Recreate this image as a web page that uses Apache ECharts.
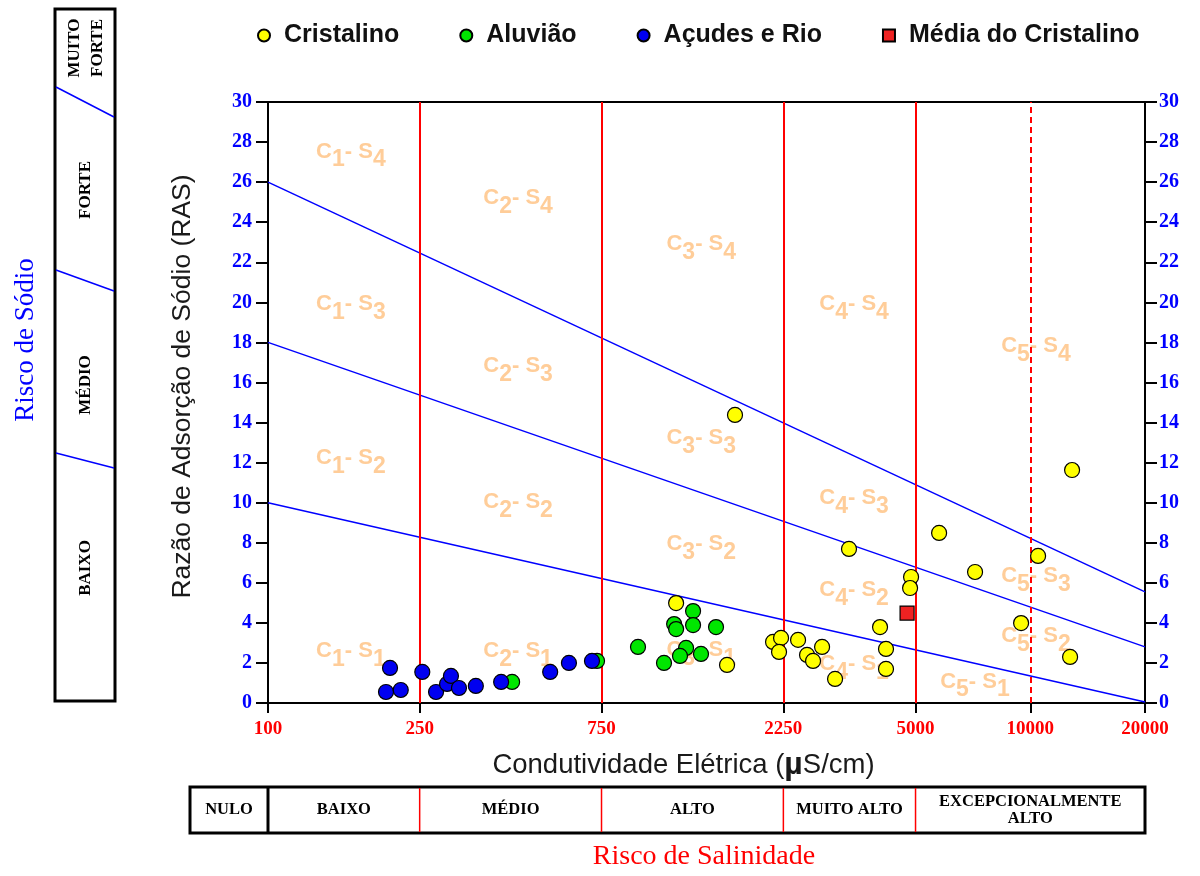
<!DOCTYPE html>
<html><head><meta charset="utf-8">
<script src="https://cdn.jsdelivr.net/npm/echarts@6/dist/echarts.min.js"></script>
<style>html,body{margin:0;padding:0;background:#fff}#c{width:1200px;height:876px}</style>
</head><body><div id="c"></div>
<script>
// ---------- DATA ----------
const xTicks = [100, 250, 750, 2250, 5000, 10000, 20000];
const yMin = 0, yMax = 30, yInterval = 2;

const cristalino = [
  [1680,14.38],[1177,4.99],[1601,1.90],[2114,3.05],[2219,3.25],[2192,2.55],
  [2459,3.15],[2596,2.40],[2692,2.10],[2843,2.80],[3075,1.20],[3345,7.69],
  [4035,3.79],[4183,2.70],[4183,1.70],[4867,6.29],[4838,5.74],[5765,8.49],
  [7164,6.54],[10484,7.34],[9461,3.99],[12874,11.63],[12720,2.30]
];
const aluviao = [
  [1304,4.59],[1163,3.94],[1177,3.69],[1304,3.89],[1498,3.79],[935,2.80],
  [1250,2.75],[1205,2.35],[1368,2.45],[1094,2.00],[437,1.05],[730,2.10]
];
const acudes = [
  [204,0.55],[209,1.75],[223,0.65],[254,1.55],[276,0.55],[295,0.95],
  [302,1.35],[317,0.75],[351,0.85],[409,1.05],[550,1.55],[616,2.00],[708,2.10]
];
const mediaCristalino = [[4751,4.49]];

const boundaryS1S2 = [[100,10],[20000,0.05]];
const boundaryS2S3 = [[100,18],[20000,2.8]];
const boundaryS3S4 = [[100,26],[20000,5.55]];

const salinityLimits = [250, 750, 2250, 5000];
const dashedLimits = [10000];

// [conductivity, RAS, C class, S class]
const zoneLabels = [
  [165,27.5,1,4],[453,25.2,2,4],[1370,22.9,3,4],[3450,19.9,4,4],[10350,17.8,5,4],
  [165,19.9,1,3],[453,16.8,2,3],[1370,13.2,3,3],[3450,10.2,4,3],[10350,6.3,5,3],
  [165,12.2,1,2],[453,10.0,2,2],[1370,7.9,3,2],[3450,5.6,4,2],[10350,3.3,5,2],
  [165,2.55,1,1],[453,2.55,2,1],[1370,2.6,3,1],[3450,1.9,4,1],[7160,1.05,5,1]
];

const sodiumClasses = ['MUITO\nFORTE', 'FORTE', 'MÉDIO', 'BAIXO'];
const salinityClasses = ['NULO', 'BAIXO', 'MÉDIO', 'ALTO', 'MUITO ALTO', 'EXCEPCIONALMENTE\nALTO'];
const legendNames = ['Cristalino', 'Aluvião', 'Açudes e Rio', 'Média do Cristalino'];

// ---------- CHART ----------
const SERIF = "'Liberation Serif','Times New Roman',serif";
const SANS = "'Liberation Sans',Arial,sans-serif";
const chart = echarts.init(document.getElementById('c'));

const yAxisBase = {
  type: 'value', min: yMin, max: yMax, interval: yInterval,
  axisLine: {show: true, lineStyle: {color: '#000', width: 2}},
  axisTick: {show: true, length: 12, lineStyle: {color: '#000', width: 2}},
  axisLabel: {color: '#0000FF', fontFamily: SERIF, fontWeight: 'bold', fontSize: 20, margin: 16},
  splitLine: {show: false}
};

const option = {
  animation: false,
  backgroundColor: '#fff',
  legend: {
    data: legendNames,
    left: 252, top: 18,
    itemWidth: 12, itemHeight: 12, itemGap: 60,
    textStyle: {fontFamily: SANS, fontSize: 25, fontWeight: 'bold', color: '#111', padding: [0, 0, 0, 9]}
  },
  grid: {left: 268, right: 55, top: 102, bottom: 173, show: true, borderColor: '#000', borderWidth: 2},
  xAxis: {
    type: 'log', logBase: 10, min: xTicks[0], max: xTicks[xTicks.length - 1],
    axisLine: {show: true, lineStyle: {color: '#000', width: 2}},
    axisTick: {show: true, customValues: xTicks, length: 10, lineStyle: {color: '#000', width: 2}},
    axisLabel: {customValues: xTicks, formatter: v => String(Math.round(v)),
      color: '#FF0000', fontFamily: SERIF, fontWeight: 'bold', fontSize: 19, margin: 17},
    minorTick: {show: false}, splitLine: {show: false}, minorSplitLine: {show: false},
    name: 'Condutividade Elétrica ({mu|µ}S/cm)', nameLocation: 'middle', nameGap: 46,
    nameTextStyle: {fontFamily: SANS, fontSize: 27.5, color: '#1a1a1a', padding: [0, 46, 0, 0],
      rich: {mu: {fontFamily: SANS, fontSize: 32, fontWeight: 'bold', color: '#1a1a1a'}}}
  },
  yAxis: [
    Object.assign({}, yAxisBase, {
      position: 'left',
      name: 'Razão de Adsorção de Sódio (RAS)', nameLocation: 'middle', nameGap: 72, nameRotate: 90,
      nameTextStyle: {fontFamily: SANS, fontSize: 26.5, color: '#1a1a1a', padding: [0, 0, 0, 32]}
    }),
    Object.assign({}, yAxisBase, {position: 'right', axisLabel: Object.assign({}, yAxisBase.axisLabel, {margin: 14})})
  ],
  series: [
    {
      name: 'zones', type: 'scatter', data: zoneLabels, symbolSize: 1, silent: true, z: 1,
      itemStyle: {color: 'rgba(0,0,0,0)'},
      label: {
        show: true, position: 'inside',
        formatter: p => `{c|C}{n|${p.value[2]}}{c|- S}{n|${p.value[3]}}`,
        rich: {
          c: {fontFamily: SANS, fontSize: 22, fontWeight: 'bold', color: '#FFC080', lineHeight: 22, verticalAlign: 'top'},
          n: {fontFamily: SANS, fontSize: 23, fontWeight: 'bold', color: '#FFC080', lineHeight: 23, verticalAlign: 'top', padding: [8, 0, 0, 0]}
        }
      },
      emphasis: {disabled: true}
    },
    {
      name: 'limits', type: 'line', data: [], silent: true, z: 2,
      markLine: {
        silent: true, symbol: ['none', 'none'], label: {show: false}, animation: false,
        lineStyle: {color: '#FF0000', type: 'solid', width: 2},
        data: salinityLimits.map(v => ({xAxis: v}))
      }
    },
    {
      name: 'limitsDashed', type: 'line', data: [], silent: true, z: 2,
      markLine: {
        silent: true, symbol: ['none', 'none'], label: {show: false}, animation: false,
        lineStyle: {color: '#FF0000', type: [6, 4], width: 2},
        data: dashedLimits.map(v => ({xAxis: v}))
      }
    },
    ...[boundaryS1S2, boundaryS2S3, boundaryS3S4].map((d, i) => ({
      name: 'b' + i, type: 'line', data: d, symbol: 'none', silent: true, z: 3,
      lineStyle: {color: '#0000FF', width: 1.5}
    })),
    {name: 'Cristalino', type: 'scatter', data: cristalino, symbol: 'circle', symbolSize: 15, z: 5,
      itemStyle: {color: '#FFFF00', borderColor: '#000', borderWidth: 1.2, opacity: 1}},
    {name: 'Aluvião', type: 'scatter', data: aluviao, symbol: 'circle', symbolSize: 15, z: 6,
      itemStyle: {color: '#00E600', borderColor: '#000', borderWidth: 1.2, opacity: 1}},
    {name: 'Açudes e Rio', type: 'scatter', data: acudes, symbol: 'circle', symbolSize: 15, z: 7,
      itemStyle: {color: '#0000F0', borderColor: '#000', borderWidth: 1.2, opacity: 1}},
    {name: 'Média do Cristalino', type: 'scatter', data: mediaCristalino, symbol: 'rect', symbolSize: 14, z: 8,
      itemStyle: {color: '#EE2222', borderColor: '#000', borderWidth: 1.2, opacity: 1}}
  ]
};
chart.setOption(option);

// ---------- DECORATION (side and bottom classification boxes) ----------
const px = v => chart.convertToPixel({xAxisIndex: 0}, v);
const g = [];
// left sodium-risk box
const lb = {x: 55, y: 9, w: 60, h: 692};
g.push({type: 'rect', shape: {x: lb.x, y: lb.y, width: lb.w, height: lb.h},
  style: {fill: '#fff', stroke: '#000', lineWidth: 3}, z: 10});
[[87, 117], [270, 291], [453, 468]].forEach(([a, b]) => g.push({type: 'line',
  shape: {x1: lb.x + 1, y1: a, x2: lb.x + lb.w - 1, y2: b}, style: {stroke: '#0000FF', lineWidth: 1.5}, z: 11}));
const sodY = [48, 190, 385, 568];
sodiumClasses.forEach((t, i) => g.push({type: 'text', x: 86, y: sodY[i], rotation: Math.PI / 2, z: 12,
  style: {text: t, align: 'center', verticalAlign: 'middle', fontFamily: SERIF, fontWeight: 'bold',
    fontSize: 17, lineHeight: 23, fill: '#000'}}));
g.push({type: 'text', x: 26, y: 340, rotation: Math.PI / 2, z: 12,
  style: {text: 'Risco de Sódio', align: 'center', verticalAlign: 'middle', fontFamily: SERIF,
    fontSize: 27, fill: '#0000FF'}});

// bottom salinity-risk box
const bb = {x: 190, y: 787, w: 955, h: 46};
g.push({type: 'rect', shape: {x: bb.x, y: bb.y, width: bb.w, height: bb.h},
  style: {fill: '#fff', stroke: '#000', lineWidth: 3}, z: 10});
const xs = [bb.x, px(xTicks[0])].concat(salinityLimits.map(px)).concat([bb.x + bb.w]);
g.push({type: 'line', shape: {x1: xs[1], y1: bb.y, x2: xs[1], y2: bb.y + bb.h},
  style: {stroke: '#000', lineWidth: 3}, z: 11});
for (let i = 2; i < xs.length - 1; i++) {
  g.push({type: 'line', shape: {x1: xs[i], y1: bb.y + 1, x2: xs[i], y2: bb.y + bb.h - 1},
    style: {stroke: '#FF0000', lineWidth: 1.5}, z: 11});
}
salinityClasses.forEach((t, i) => g.push({type: 'text', x: (xs[i] + xs[i + 1]) / 2, y: bb.y + bb.h / 2, z: 12,
  style: {text: t, align: 'center', verticalAlign: 'middle', fontFamily: SERIF, fontWeight: 'bold',
    fontSize: 16.5, lineHeight: 17, fill: '#000'}}));
g.push({type: 'text', x: 704, y: 857, z: 12,
  style: {text: 'Risco de Salinidade', align: 'center', verticalAlign: 'middle', fontFamily: SERIF,
    fontSize: 28, fill: '#FF0000'}});

chart.setOption({graphic: g});
</script>
</body></html>
